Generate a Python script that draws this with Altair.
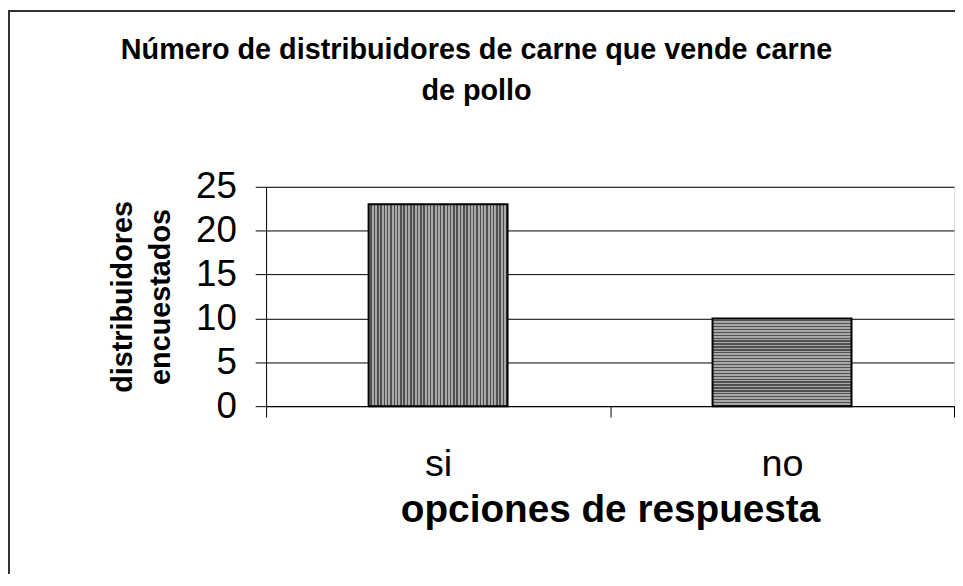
import altair as alt
import pandas as pd

# ---- data ----
categories = ["si", "no"]
values = [23, 10]
y_ticks = [0, 5, 10, 15, 20, 25]
title_lines = ["Número de distribuidores de carne que vende carne", "de pollo"]
y_title_lines = ["distribuidores", "encuestados"]
x_title = "opciones de respuesta"

df = pd.DataFrame({"resp": categories, "n": values})

FONT = "Liberation Sans"
W, H = 693, 221


def stripes(n, vertical_stripes, light="#a8a8a8", dark="#505050", frac=0.55):
    stops = []
    for i in range(n):
        a = i / n
        b = (i + frac) / n
        c = (i + 1) / n
        stops += [
            alt.GradientStop(offset=a, color=light),
            alt.GradientStop(offset=b, color=light),
            alt.GradientStop(offset=b, color=dark),
            alt.GradientStop(offset=c, color=dark),
        ]
    if vertical_stripes:
        return alt.LinearGradient(gradient="linear", stops=stops, x1=0, x2=1, y1=0, y2=0)
    return alt.LinearGradient(gradient="linear", stops=stops, x1=0, x2=0, y1=0, y2=1)


x_enc = alt.X(
    "resp:N",
    sort=categories,
    scale=alt.Scale(paddingInner=0, paddingOuter=0),
    axis=alt.Axis(
        title=x_title,
        labelAngle=0,
        labelFontSize=38,
        labelPadding=29,
        labelFont=FONT,
        labelColor="#000",
        tickBand="extent",
        tickSize=11,
        tickColor="#000",
        domainColor="#000",
        titleFont=FONT,
        titleFontSize=39,
        titleFontWeight="bold",
        titleX=W / 2,
        titleY=116,
        titleAlign="center",
        titleBaseline="alphabetic",
        titleColor="#000",
        grid=False,
    ),
)

y_enc = alt.Y(
    "n:Q",
    scale=alt.Scale(domain=[0, 25], nice=False),
    axis=alt.Axis(
        values=y_ticks,
        title=y_title_lines,
        titleFont=FONT,
        titleFontSize=29,
        titleFontWeight="bold",
        titleLineHeight=39,
        titleAngle=-90,
        titleX=-145,
        titleY=H / 2,
        titleAlign="center",
        titleBaseline="middle",
        titleColor="#000",
        labelFont=FONT,
        labelFontSize=37,
        labelPadding=19,
        labelColor="#000",
        tickSize=11,
        tickColor="#000",
        domainColor="#000",
        grid=True,
        gridColor="#000",
        gridWidth=1,
    ),
)

one = pd.DataFrame({"k": [0]})

border = alt.Chart(one).mark_rect(
    filled=False, stroke="#333333", strokeWidth=2
).encode(
    x=alt.value(-259), y=alt.value(-177), x2=alt.value(1500), y2=alt.value(1500)
)

title = alt.Chart(one).mark_text(
    text=title_lines,
    font=FONT,
    fontSize=29,
    fontWeight="bold",
    lineHeight=42,
    align="center",
    baseline="alphabetic",
    color="#000",
).encode(x=alt.value(212), y=alt.value(-129))

bar_si = alt.Chart(df).transform_filter(alt.datum.resp == "si").mark_bar(
    width=alt.RelativeBandSize(0.404),
    fill=stripes(42, True),
    stroke="#000",
    strokeWidth=2,
).encode(x=x_enc, y=y_enc)

bar_no = alt.Chart(df).transform_filter(alt.datum.resp == "no").mark_bar(
    width=alt.RelativeBandSize(0.404),
    fill=stripes(30, False),
    stroke="#000",
    strokeWidth=2,
).encode(x=x_enc, y=y_enc)

chart = alt.layer(border, title, bar_si, bar_no).properties(
    width=W,
    height=H,
    autosize=alt.AutoSizeParams(type="none"),
    padding={"left": 260, "top": 178, "right": 1, "bottom": 167},
).configure_view(stroke="#888", strokeWidth=1).configure(background="white")

chart.save("out.html", embed_options={"renderer": "svg", "actions": False})
